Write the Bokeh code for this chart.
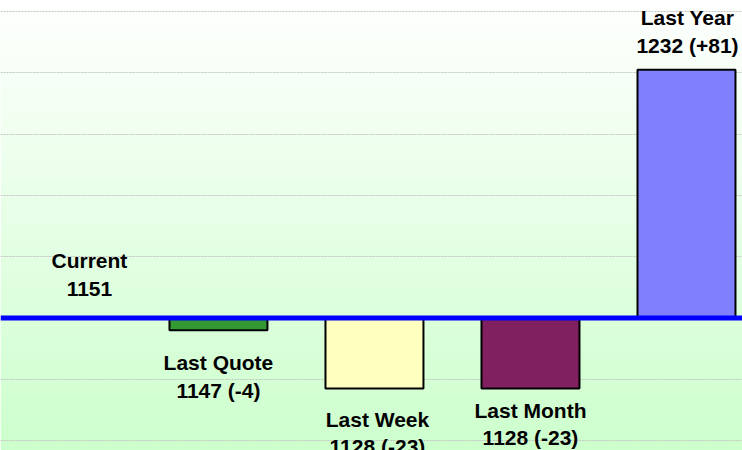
import numpy as np
from bokeh.plotting import figure
from bokeh.models import Range1d, Span, FixedTicker, ColumnDataSource
from bokeh.core.properties import value
from bokeh.embed import file_html
from bokeh.resources import INLINE

# ---- data ----
categories = ["Current", "Last Quote", "Last Week", "Last Month", "Last Year"]
values = [1151, 1147, 1128, 1128, 1232]
bar_colors = ["#339933", "#339933", "#FFFFC0", "#802060", "#8080FF"]
grid_ticks = [-40, -20, 0, 20, 40, 60, 80, 100]

base = values[0]
diffs = [v - base for v in values]
labels = [f"{categories[0]}\n{values[0]}"] + [
    f"{c}\n{v} ({d:+d})" for c, v, d in zip(categories[1:], values[1:], diffs[1:])
]
idx = list(range(len(categories)))

W, H = 742, 450
x0, x1 = -0.397, 4.359
y0, y1 = -43.2, 103.6

p = figure(width=W, height=H, output_backend="svg", toolbar_location=None,
           x_range=Range1d(x0, x1), y_range=Range1d(y0, y1),
           min_border=0, min_border_left=0, min_border_right=0,
           min_border_top=0, min_border_bottom=0)
p.outline_line_color = None
p.axis.visible = False
p.xgrid.visible = False
p.ygrid.ticker = FixedTicker(ticks=grid_ticks)
p.ygrid.grid_line_color = "#c4c4c4"
p.ygrid.grid_line_dash = "2 1"
p.ygrid.grid_line_width = 1

# background gradient (white at top -> light green at bottom)
top_c = np.array([255, 255, 255], dtype=float)
bot_c = np.array([205, 255, 205], dtype=float)
t = np.linspace(0, 1, H)[:, None]  # 0 = bottom row, 1 = top row
cols = bot_c * (1 - t) + top_c * t
img = np.zeros((H, 2, 4), dtype=np.uint8)
img[:, :, :3] = cols[:, None, :].astype(np.uint8)
img[:, :, 3] = 255
r = p.image_rgba(image=[img.view(np.uint32).reshape(H, 2)], x=x0, y=y0,
                 dw=x1 - x0, dh=y1 - y0)
r.level = "image"

# bars
src = ColumnDataSource(dict(x=idx[1:], top=diffs[1:], color=bar_colors[1:]))
p.vbar(x="x", width=0.628, bottom=0, top="top", source=src,
       fill_color="color", line_color="black", line_width=2)

# baseline
p.add_layout(Span(location=0, dimension="width", line_color="#0000FF", line_width=5))

# labels
font = value("Liberation Sans")
lab_offsets = [-18, 21, 19, 10, -13]
lab_xoff = [27, 0, 3, 0, 1]
for i in idx:
    below = diffs[i] < 0
    p.text(x=[i], y=[diffs[i]], text=[labels[i]], text_font=font,
           text_font_size="21px", text_font_style="bold", text_color="#000000",
           text_align="center", text_baseline="top" if below else "bottom",
           text_line_height=1.2, x_offset=lab_xoff[i], y_offset=lab_offsets[i])

open("out.html", "w").write(file_html(p, INLINE))
